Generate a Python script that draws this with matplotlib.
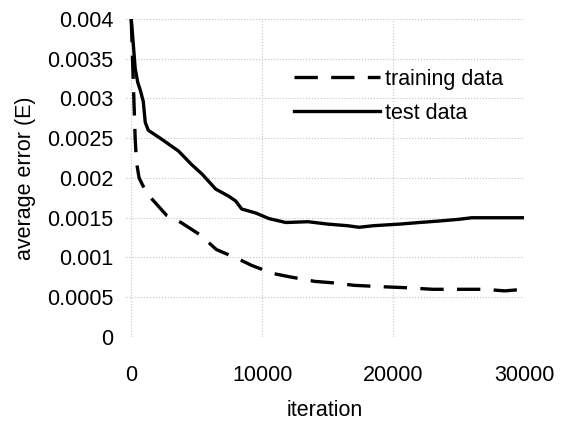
import matplotlib
matplotlib.use("Agg")
import matplotlib.pyplot as plt

plt.rcParams['font.family'] = ['Liberation Sans', 'DejaVu Sans']

# curvas
iter_teste = [0, 150, 300, 500, 700, 920, 1070, 1300, 2300, 3600, 4600, 5400, 6450,
              7450, 7980, 8430, 9500, 10500, 11800, 13500, 15000, 16500, 17400, 18500,
              20500, 22000, 23600, 25000, 26000, 28000, 30000]
erro_teste = [0.004, 0.0037, 0.00338, 0.0032, 0.0031, 0.00296, 0.0027, 0.0026, 0.00249,
              0.00234, 0.00217, 0.00205, 0.00186, 0.00177, 0.00171, 0.00161, 0.00156,
              0.00149, 0.00144, 0.00145, 0.00142, 0.0014, 0.00138, 0.0014, 0.00142,
              0.00144, 0.00146, 0.00148, 0.0015, 0.0015, 0.0015]

iter_treino = [0, 100, 200, 300, 400, 600, 900, 1500, 2700, 3800, 5300, 6500, 8200, 9200,
               10800, 12000, 14000, 15500, 17000, 19500, 21000, 23000, 25000, 27000,
               28500, 30000]
erro_treino = [0.004, 0.0035, 0.003, 0.0025, 0.0022, 0.002, 0.0019, 0.00175, 0.00153,
               0.00144, 0.00128, 0.0011, 0.00098, 0.0009, 0.0008, 0.00076, 0.0007,
               0.00068, 0.00065, 0.00063, 0.00062, 0.0006, 0.0006, 0.0006, 0.00058, 0.0006]

yticks = [0, 0.0005, 0.001, 0.0015, 0.002, 0.0025, 0.003, 0.0035, 0.004]
ytick_labels = ['0', '0.0005', '0.001', '0.0015', '0.002', '0.0025', '0.003', '0.0035', '0.004']
xticks = [0, 10000, 20000, 30000]

fig = plt.figure(figsize=(5.66, 4.21), dpi=100)
ax = fig.add_axes([0.2226, 0.1995, 0.7035, 0.7555])

ax.plot(iter_treino, erro_treino, color='black', lw=2.4, dashes=(7, 4), label='training data')
ax.plot(iter_teste, erro_teste, color='black', lw=2.4, label='test data')

ax.set_xlim(-400, 30000)
ax.set_ylim(0, 0.004)
ax.set_yticks(yticks)
ax.set_yticklabels(ytick_labels)
ax.set_xticks(xticks)
ax.tick_params(length=0, labelsize=15.5)
ax.tick_params(axis='x', pad=20)
ax.tick_params(axis='y', pad=9)
ax.grid(True, color='#c4c4c4', linestyle=':', lw=0.8)
for s in ax.spines.values():
    s.set_visible(False)

ax.set_xlabel('iteration', fontsize=15.5, labelpad=10)
ax.set_ylabel('average error (E)', fontsize=15.5, labelpad=8)

ax.legend(loc='upper left', bbox_to_anchor=(0.4, 0.87), frameon=False, fontsize=15.5,
          handlelength=4, handletextpad=0.25, labelspacing=0.6, borderaxespad=0)

fig.savefig('out.png', dpi=100)
